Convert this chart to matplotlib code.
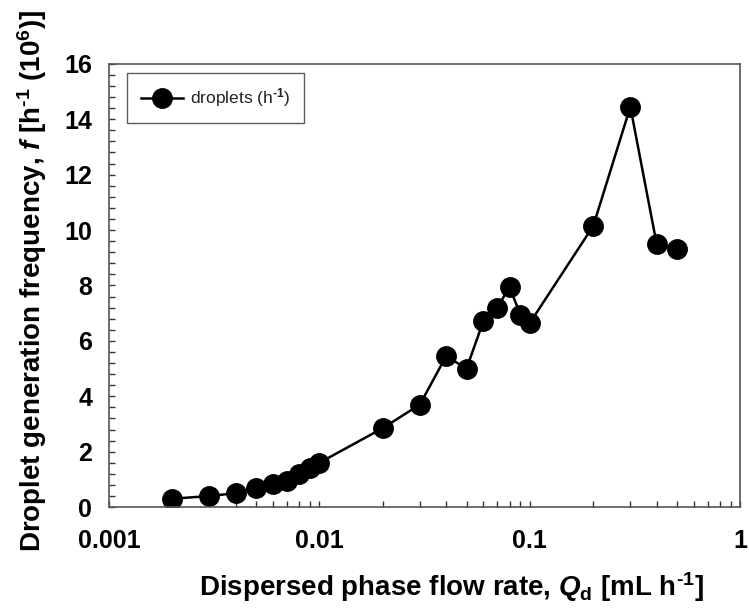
import numpy as np
import matplotlib.pyplot as plt
from matplotlib.ticker import MultipleLocator, LogLocator, NullFormatter, FixedLocator, FixedFormatter

plt.rcParams['font.family'] = ['Liberation Sans', 'DejaVu Sans']
plt.rcParams['mathtext.fontset'] = 'custom'
plt.rcParams['mathtext.rm'] = 'Liberation Sans:bold'
plt.rcParams['mathtext.it'] = 'Liberation Sans:bold:italic'
plt.rcParams['mathtext.bf'] = 'Liberation Sans:bold'

# Flow rate (mL/h) and droplet frequency (10^6 per hour)
flow_rate = [0.002, 0.003, 0.004, 0.005, 0.006, 0.007, 0.008, 0.009, 0.01,
             0.02, 0.03, 0.04, 0.05, 0.06, 0.07, 0.08, 0.09, 0.1,
             0.2, 0.3, 0.4, 0.5]
frequency = [0.3, 0.4, 0.5, 0.7, 0.85, 0.95, 1.2, 1.4, 1.6,
             2.85, 3.7, 5.45, 5.0, 6.7, 7.2, 7.95, 6.95, 6.65,
             10.15, 14.45, 9.5, 9.3]

x_ticks = [0.001, 0.01, 0.1, 1]
x_tick_labels = ['0.001', '0.01', '0.1', '1']

fig = plt.figure(figsize=(7.49, 6.08), dpi=100)
ax = fig.add_axes([0.1455, 0.166, 0.843, 0.729])

ax.plot(flow_rate, frequency, color='black', lw=1.8, marker='o',
        markersize=14, markerfacecolor='black', markeredgecolor='black',
        label='droplets (h$^{\\text{-}1}$)')

ax.set_xscale('log')
ax.set_xlim(0.001, 1)
ax.set_ylim(0, 16)

ax.xaxis.set_major_locator(FixedLocator(x_ticks))
ax.xaxis.set_major_formatter(FixedFormatter(x_tick_labels))
ax.xaxis.set_minor_locator(LogLocator(base=10, subs=np.arange(2, 10)))
ax.xaxis.set_minor_formatter(NullFormatter())
ax.yaxis.set_major_locator(MultipleLocator(2))
ax.yaxis.set_minor_locator(MultipleLocator(0.4))

ax.tick_params(which='both', direction='in', top=False, right=False,
               length=4, width=1, color='#333333')
ax.tick_params(which='major', labelsize=18)
ax.tick_params(axis='x', which='major', pad=16)
ax.tick_params(axis='y', which='major', pad=12)
for lab in ax.get_xticklabels() + ax.get_yticklabels():
    lab.set_fontweight('bold')

for sp in ax.spines.values():
    sp.set_color('#555555')
    sp.set_linewidth(1.2)

ax.set_xlabel('Dispersed phase flow rate, $\\mathit{Q}_\\mathrm{d}$ [mL h$^{\\text{-}\\mathrm{1}}$]',
              fontsize=20, fontweight='bold')
ax.set_ylabel('Droplet generation frequency, $\\mathit{f}$ [h$^{\\text{-}\\mathrm{1}}$ (10$^{\\mathrm{6}}$)]',
              fontsize=20, fontweight='bold')
ax.xaxis.set_label_coords(0.542, -0.143)
ax.yaxis.set_label_coords(-0.095, 0.51)

leg = ax.legend(loc='upper left', bbox_to_anchor=(0.0285, 0.98), borderaxespad=0,
                fontsize=12.5, frameon=True, fancybox=False, edgecolor='#333333',
                handlelength=2.4, handletextpad=0.45, borderpad=0.8, markerscale=1.0)
leg.get_frame().set_linewidth(1.0)
for t in leg.get_texts():
    t.set_color('#222222')

fig.savefig('out.png', dpi=100)
